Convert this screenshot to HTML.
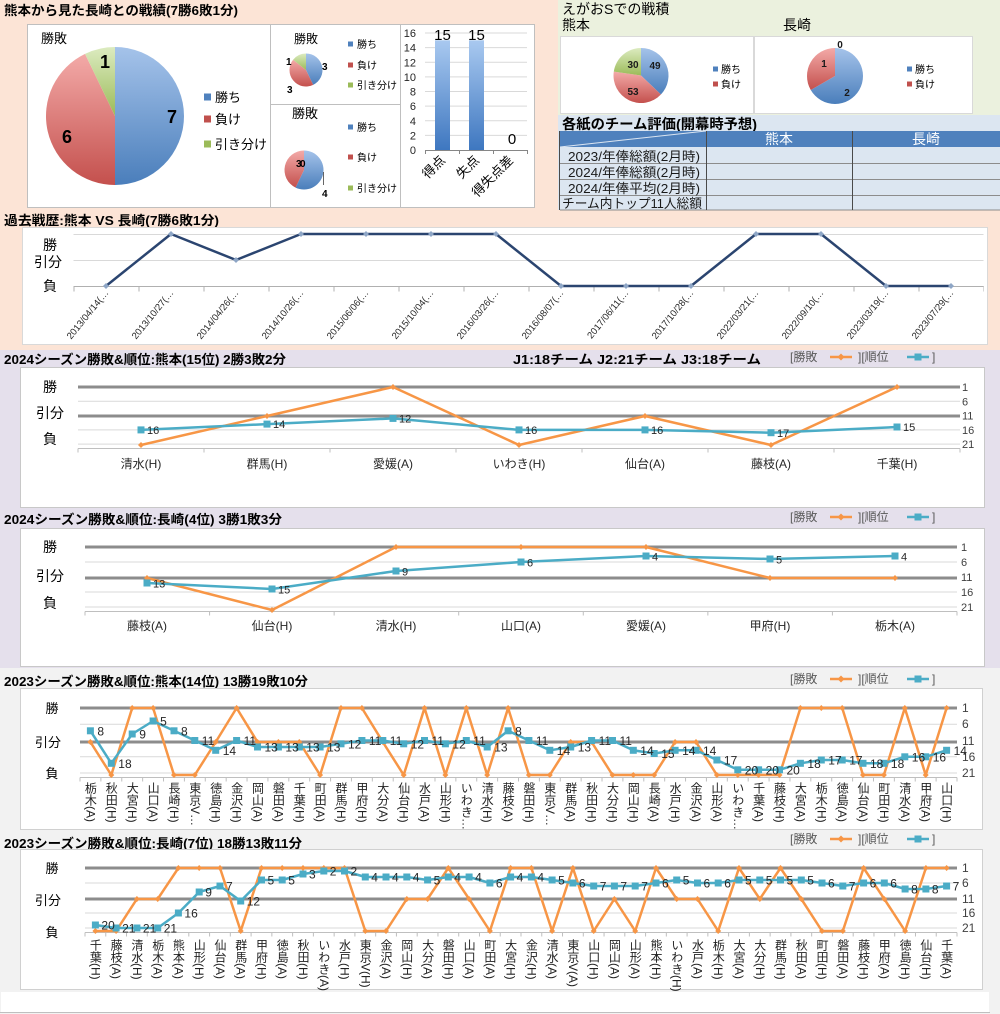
<!DOCTYPE html>
<html><head><meta charset="utf-8">
<style>
body{margin:0;width:1000px;height:1014px;overflow:hidden;background:#fff;}
.wrap{position:relative;width:1000px;height:1014px;}
svg{position:absolute;left:0;top:0;}
.v{position:absolute;writing-mode:vertical-rl;text-orientation:mixed;font-family:"Liberation Sans","Noto Sans CJK JP",sans-serif;font-size:12px;line-height:14px;width:14px;white-space:nowrap;color:#222;}
.k{top:782px}.n{top:939px}
</style></head><body><div class="wrap">
<svg width="1000" height="1014" viewBox="0 0 1000 1014" font-family="Liberation Sans, Noto Sans CJK JP, sans-serif">
<defs>
<linearGradient id="gB" x1="0" y1="0" x2="0" y2="1"><stop offset="0" stop-color="#a5c3ea"/><stop offset="1" stop-color="#4a7ebb"/></linearGradient>
<linearGradient id="gR" x1="0" y1="0" x2="0" y2="1"><stop offset="0" stop-color="#f3aaa8"/><stop offset="1" stop-color="#c4504d"/></linearGradient>
<linearGradient id="gG" x1="0" y1="0" x2="0" y2="1"><stop offset="0" stop-color="#dcebc0"/><stop offset="1" stop-color="#9bbb59"/></linearGradient>
<linearGradient id="gBar" x1="0" y1="0" x2="0" y2="1"><stop offset="0" stop-color="#a9c9f0"/><stop offset="1" stop-color="#3e77c0"/></linearGradient>
<marker id="mo" viewBox="-4 -4 8 8" markerWidth="8" markerHeight="8" markerUnits="userSpaceOnUse"><path d="M0,-3L3,0L0,3L-3,0Z" fill="#f79646"/></marker>
<marker id="mb" viewBox="-4 -4 8 8" markerWidth="8" markerHeight="8" markerUnits="userSpaceOnUse"><rect x="-3.5" y="-3.5" width="7" height="7" fill="#4bacc6"/></marker>
<marker id="mn" viewBox="-4 -4 8 8" markerWidth="8" markerHeight="8" markerUnits="userSpaceOnUse"><path d="M0,-3L3,0L0,3L-3,0Z" fill="#8ea6c6"/></marker>
</defs>

<!-- backgrounds -->
<rect x="0" y="0" width="1000" height="350" fill="#fce4d6"/>
<rect x="558" y="0" width="442" height="115" fill="#ebf1de"/>
<rect x="558" y="115" width="442" height="95" fill="#dce6f1"/>
<rect x="0" y="350" width="1000" height="318" fill="#e5e0ec"/>
<rect x="0" y="668" width="1000" height="346" fill="#f2f2f2"/>
<rect x="1" y="992" width="988" height="20" fill="#fff"/>
<line x1="0" y1="1012.5" x2="990" y2="1012.5" stroke="#bfbfbf"/>

<!-- ===== top-left ===== -->
<text x="4" y="15" font-size="13" font-weight="bold" textLength="234" lengthAdjust="spacingAndGlyphs">熊本から見た長崎との戦績(7勝6敗1分)</text>
<rect x="27.5" y="24.5" width="243" height="183" fill="#fff" stroke="#bfbfbf"/>
<text x="41" y="43" font-size="13">勝敗</text>
<path d="M115,116 L115,47 A69,69 0 0 1 115,185 Z" fill="url(#gB)"/>
<path d="M115,116 L115,185 A69,69 0 0 1 85.06,53.83 Z" fill="url(#gR)"/>
<path d="M115,116 L85.06,53.83 A69,69 0 0 1 115,47 Z" fill="url(#gG)"/>
<text x="167" y="123" font-size="18" font-weight="bold">7</text>
<text x="62" y="143" font-size="18" font-weight="bold">6</text>
<text x="100" y="68" font-size="18" font-weight="bold">1</text>
<rect x="204" y="93.5" width="7" height="7" fill="#4f81bd"/><text x="215" y="102" font-size="13">勝ち</text>
<rect x="204" y="115.5" width="7" height="7" fill="#c0504d"/><text x="215" y="124" font-size="13">負け</text>
<rect x="204" y="140.5" width="7" height="7" fill="#9bbb59"/><text x="215" y="149" font-size="13">引き分け</text>

<rect x="270.5" y="24.5" width="130" height="80" fill="#fff" stroke="#bfbfbf"/>
<text x="294" y="43" font-size="12">勝敗</text>
<path d="M306,70 L306,53.5 A16.5,16.5 0 0 1 313.16,84.87 Z" fill="url(#gB)"/>
<path d="M306,70 L313.16,84.87 A16.5,16.5 0 0 1 293.10,59.71 Z" fill="url(#gR)"/>
<path d="M306,70 L293.10,59.71 A16.5,16.5 0 0 1 306,53.5 Z" fill="url(#gG)"/>
<text x="286" y="65" font-size="10" font-weight="bold">1</text>
<text x="322" y="70" font-size="10" font-weight="bold">3</text>
<text x="287" y="93" font-size="10" font-weight="bold">3</text>
<g font-size="10"><rect x="348" y="41.5" width="5" height="5" fill="#4f81bd"/><text x="357" y="48">勝ち</text>
<rect x="348" y="62.5" width="5" height="5" fill="#c0504d"/><text x="357" y="69">負け</text>
<rect x="348" y="82.5" width="5" height="5" fill="#9bbb59"/><text x="357" y="89">引き分け</text></g>

<rect x="270.5" y="104.5" width="130" height="103" fill="#fff" stroke="#bfbfbf"/>
<text x="292" y="118" font-size="13">勝敗</text>
<path d="M304,170 L304,150.5 A19.5,19.5 0 1 1 295.54,187.57 Z" fill="url(#gB)"/>
<path d="M304,170 L295.54,187.57 A19.5,19.5 0 0 1 304,150.5 Z" fill="url(#gR)"/>
<text x="296" y="167" font-size="10" font-weight="bold">3</text>
<text x="300" y="167" font-size="10" font-weight="bold">0</text>
<line x1="323.5" y1="172" x2="323.5" y2="185" stroke="#404040" stroke-width="0.8"/>
<text x="322" y="197" font-size="10" font-weight="bold">4</text>
<g font-size="10"><rect x="348" y="124.5" width="5" height="5" fill="#4f81bd"/><text x="357" y="131">勝ち</text>
<rect x="348" y="154.5" width="5" height="5" fill="#c0504d"/><text x="357" y="161">負け</text>
<rect x="348" y="185.5" width="5" height="5" fill="#9bbb59"/><text x="357" y="192">引き分け</text></g>

<!-- bar chart -->
<rect x="400.5" y="24.5" width="134" height="183" fill="#fff" stroke="#bfbfbf"/>
<g stroke="#d9d9d9" stroke-width="1">
<line x1="425" y1="135.4" x2="527" y2="135.4"/><line x1="425" y1="120.8" x2="527" y2="120.8"/>
<line x1="425" y1="106.1" x2="527" y2="106.1"/><line x1="425" y1="91.5" x2="527" y2="91.5"/>
<line x1="425" y1="76.9" x2="527" y2="76.9"/><line x1="425" y1="62.3" x2="527" y2="62.3"/>
<line x1="425" y1="47.6" x2="527" y2="47.6"/><line x1="425" y1="33" x2="527" y2="33"/>
</g>
<line x1="425" y1="150.5" x2="527" y2="150.5" stroke="#868686"/>
<g stroke="#868686"><line x1="425.5" y1="150" x2="425.5" y2="154"/><line x1="459.5" y1="150" x2="459.5" y2="154"/><line x1="493.5" y1="150" x2="493.5" y2="154"/><line x1="527.5" y1="150" x2="527.5" y2="154"/></g>
<g font-size="11" text-anchor="end" fill="#262626">
<text x="416" y="154">0</text><text x="416" y="139.4">2</text><text x="416" y="124.8">4</text><text x="416" y="110.1">6</text><text x="416" y="95.5">8</text><text x="416" y="80.9">10</text><text x="416" y="66.3">12</text><text x="416" y="51.6">14</text><text x="416" y="37">16</text>
</g>
<rect x="435" y="40.3" width="15" height="109.7" fill="url(#gBar)"/>
<rect x="469" y="40.3" width="15" height="109.7" fill="url(#gBar)"/>
<g font-size="15" text-anchor="middle"><text x="442.5" y="40">15</text><text x="476.5" y="40">15</text><text x="512" y="144">0</text></g>
<g font-size="13" text-anchor="end">
<text transform="translate(446,161) rotate(-45)">得点</text>
<text transform="translate(480,161) rotate(-45)">失点</text>
<text transform="translate(514,161) rotate(-45)">得失点差</text>
</g>

<!-- ===== top-right ===== -->
<text x="562" y="14" font-size="14">えがおSでの戦積</text>
<text x="562" y="30" font-size="14">熊本</text>
<text x="783" y="30" font-size="14">長崎</text>
<rect x="560.5" y="36.5" width="193" height="77" fill="#fff" stroke="#d9d9d9"/>
<rect x="754.5" y="36.5" width="218" height="77" fill="#fff" stroke="#d9d9d9"/>
<path d="M641,75.5 L641,48 A27.5,27.5 0 0 1 660.90,94.48 Z" fill="url(#gB)"/>
<path d="M641,75.5 L660.90,94.48 A27.5,27.5 0 0 1 613.78,71.59 Z" fill="url(#gR)"/>
<path d="M641,75.5 L613.78,71.59 A27.5,27.5 0 0 1 641,48 Z" fill="url(#gG)"/>
<g font-size="10" font-weight="bold" text-anchor="middle" fill="#1a1a1a">
<text x="633" y="68">30</text><text x="655" y="69">49</text><text x="633" y="95">53</text>
</g>
<g font-size="10"><rect x="713" y="66.5" width="5" height="5" fill="#4f81bd"/><text x="721" y="73">勝ち</text>
<rect x="713" y="81.5" width="5" height="5" fill="#c0504d"/><text x="721" y="88">負け</text></g>
<path d="M835,76 L835,48 A28,28 0 1 1 810.75,90 Z" fill="url(#gB)"/>
<path d="M835,76 L810.75,90 A28,28 0 0 1 835,48 Z" fill="url(#gR)"/>
<g font-size="10" font-weight="bold" text-anchor="middle" fill="#1a1a1a">
<text x="840" y="48">0</text><text x="824" y="67">1</text><text x="847" y="96">2</text>
</g>
<g font-size="10"><rect x="907" y="66.5" width="5" height="5" fill="#4f81bd"/><text x="915" y="73">勝ち</text>
<rect x="907" y="81.5" width="5" height="5" fill="#c0504d"/><text x="915" y="88">負け</text></g>

<text x="562" y="129" font-size="14" font-weight="bold" textLength="195" lengthAdjust="spacingAndGlyphs">各紙のチーム評価(開幕時予想)</text>
<rect x="560" y="131" width="440" height="16" fill="#4f81bd"/>
<rect x="560" y="147" width="440" height="63" fill="#dce6f1"/>
<line x1="560" y1="147" x2="706" y2="131" stroke="#dbe5f1" stroke-width="1"/>
<g stroke="#8c8c8c"><line x1="560" y1="163.5" x2="1000" y2="163.5"/><line x1="560" y1="179.5" x2="1000" y2="179.5"/><line x1="560" y1="195.5" x2="1000" y2="195.5"/><line x1="560" y1="210" x2="1000" y2="210"/></g>
<g stroke="#4a4a4a"><line x1="559.5" y1="131" x2="559.5" y2="210"/><line x1="706.5" y1="131" x2="706.5" y2="210"/><line x1="852.5" y1="131" x2="852.5" y2="210"/></g>
<g font-size="14" fill="#fff" text-anchor="middle"><text x="779" y="144">熊本</text><text x="926" y="144">長崎</text></g>
<g font-size="13" fill="#1a1a1a">
<text x="568" y="161" textLength="132" lengthAdjust="spacingAndGlyphs">2023/年俸総額(2月時)</text>
<text x="568" y="177" textLength="132" lengthAdjust="spacingAndGlyphs">2024/年俸総額(2月時)</text>
<text x="568" y="193" textLength="132" lengthAdjust="spacingAndGlyphs">2024/年俸平均(2月時)</text>
<text x="562" y="208" textLength="140" lengthAdjust="spacingAndGlyphs">チーム内トップ11人総額</text>
</g>

<!-- ===== 過去戦歴 ===== -->
<text x="4" y="225" font-size="13" font-weight="bold" textLength="215" lengthAdjust="spacingAndGlyphs">過去戦歴:熊本 VS 長崎(7勝6敗1分)</text>
<rect x="22.5" y="227.5" width="965" height="117" fill="#fff" stroke="#d9d9d9"/>
<g stroke="#d9d9d9"><line x1="73.5" y1="234.5" x2="983.5" y2="234.5"/><line x1="73.5" y1="260.5" x2="983.5" y2="260.5"/></g>
<line x1="73.5" y1="286.5" x2="983.5" y2="286.5" stroke="#b0b0b0"/>
<line x1="73.5" y1="289" x2="984" y2="289" stroke="#b0b0b0" stroke-width="5" stroke-dasharray="1 64"/>
<g font-size="14" text-anchor="middle"><text x="50" y="250">勝</text><text x="48" y="267">引分</text><text x="50" y="291">負</text></g>
<polyline points="106,286 171,234 236,260 301,234 366,234 431,234 496,234 561,286 626,286 691,286 756,234 821,234 886,286 951,286" fill="none" stroke="#2b4570" stroke-width="2.5" stroke-linejoin="round" marker-start="url(#mn)" marker-mid="url(#mn)" marker-end="url(#mn)"/>
<g font-size="9.5" fill="#262626" text-anchor="end">
<text transform="translate(109,293) rotate(-51)">2013/04/14(…</text>
<text transform="translate(174,293) rotate(-51)">2013/10/27(…</text>
<text transform="translate(239,293) rotate(-51)">2014/04/26(…</text>
<text transform="translate(304,293) rotate(-51)">2014/10/26(…</text>
<text transform="translate(369,293) rotate(-51)">2015/06/06(…</text>
<text transform="translate(434,293) rotate(-51)">2015/10/04(…</text>
<text transform="translate(499,293) rotate(-51)">2016/03/26(…</text>
<text transform="translate(564,293) rotate(-51)">2016/08/07(…</text>
<text transform="translate(629,293) rotate(-51)">2017/06/11(…</text>
<text transform="translate(694,293) rotate(-51)">2017/10/28(…</text>
<text transform="translate(759,293) rotate(-51)">2022/03/21(…</text>
<text transform="translate(824,293) rotate(-51)">2022/09/10(…</text>
<text transform="translate(889,293) rotate(-51)">2023/03/19(…</text>
<text transform="translate(954,293) rotate(-51)">2023/07/29(…</text>
</g>

<!-- ===== 2024 Kumamoto ===== -->
<text x="4" y="364" font-size="13" font-weight="bold" textLength="282" lengthAdjust="spacingAndGlyphs">2024シーズン勝敗&amp;順位:熊本(15位) 2勝3敗2分</text>
<text x="513" y="364" font-size="13" font-weight="bold" textLength="248" lengthAdjust="spacingAndGlyphs">J1:18チーム J2:21チーム J3:18チーム</text>
<g font-size="12" fill="#595959"><text x="790" y="361">[勝敗</text><text x="858" y="361">][順位</text><text x="932" y="361">]</text></g>
<line x1="830" y1="357" x2="852" y2="357" stroke="#f79646" stroke-width="2.5"/><path d="M841,353.5L844.5,357L841,360.5L837.5,357Z" fill="#f79646"/>
<line x1="907" y1="357" x2="929" y2="357" stroke="#4bacc6" stroke-width="2.5"/><rect x="914.5" y="353.5" width="7" height="7" fill="#4bacc6"/>
<rect x="20.5" y="367.5" width="964" height="140" fill="#fff" stroke="#c8c8c8"/>
<g stroke="#d9d9d9"><line x1="78" y1="401.3" x2="960" y2="401.3"/><line x1="78" y1="429.9" x2="960" y2="429.9"/><line x1="78" y1="444.1" x2="960" y2="444.1"/></g>
<g stroke="#8c8c8c" stroke-width="3"><line x1="78" y1="387" x2="960" y2="387"/><line x1="78" y1="416" x2="960" y2="416"/></g>
<line x1="78" y1="448.5" x2="960" y2="448.5" stroke="#bfbfbf"/>
<line x1="77.5" y1="450.5" x2="961" y2="450.5" stroke="#bfbfbf" stroke-width="4" stroke-dasharray="1 125"/>
<g font-size="14" text-anchor="middle"><text x="50" y="392">勝</text><text x="50" y="418">引分</text><text x="50" y="444">負</text></g>
<g font-size="11" fill="#404040"><text x="962" y="391">1</text><text x="962" y="405.3">6</text><text x="962" y="419.6">11</text><text x="962" y="433.9">16</text><text x="962" y="448.1">21</text></g>
<polyline points="141,445 267,416 393,387 519,445 645,416 771,445 897,387" fill="none" stroke="#f79646" stroke-width="2.5" stroke-linejoin="round" marker-start="url(#mo)" marker-mid="url(#mo)" marker-end="url(#mo)"/>
<polyline points="141,429.9 267,424.1 393,418.4 519,429.9 645,429.9 771,432.7 897,427" fill="none" stroke="#4bacc6" stroke-width="2.5" stroke-linejoin="round" marker-start="url(#mb)" marker-mid="url(#mb)" marker-end="url(#mb)"/>
<g font-size="11" fill="#262626"><text x="147" y="434">16</text><text x="273" y="428">14</text><text x="399" y="422.5">12</text><text x="525" y="434">16</text><text x="651" y="434">16</text><text x="777" y="437">17</text><text x="903" y="431">15</text></g>
<g font-size="12" text-anchor="middle" fill="#262626"><text x="141" y="468">清水(H)</text><text x="267" y="468">群馬(H)</text><text x="393" y="468">愛媛(A)</text><text x="519" y="468">いわき(H)</text><text x="645" y="468">仙台(A)</text><text x="771" y="468">藤枝(A)</text><text x="897" y="468">千葉(H)</text></g>

<!-- ===== 2024 Nagasaki ===== -->
<text x="4" y="524" font-size="13" font-weight="bold" textLength="278" lengthAdjust="spacingAndGlyphs">2024シーズン勝敗&amp;順位:長崎(4位) 3勝1敗3分</text>
<g font-size="12" fill="#595959"><text x="790" y="521">[勝敗</text><text x="858" y="521">][順位</text><text x="932" y="521">]</text></g>
<line x1="830" y1="517" x2="852" y2="517" stroke="#f79646" stroke-width="2.5"/><path d="M841,513.5L844.5,517L841,520.5L837.5,517Z" fill="#f79646"/>
<line x1="907" y1="517" x2="929" y2="517" stroke="#4bacc6" stroke-width="2.5"/><rect x="914.5" y="513.5" width="7" height="7" fill="#4bacc6"/>
<rect x="20.5" y="528.5" width="964" height="138" fill="#fff" stroke="#c8c8c8"/>
<g stroke="#d9d9d9"><line x1="85" y1="562" x2="957" y2="562"/><line x1="85" y1="592" x2="957" y2="592"/><line x1="85" y1="607" x2="957" y2="607"/></g>
<g stroke="#8c8c8c" stroke-width="3"><line x1="85" y1="547" x2="957" y2="547"/><line x1="85" y1="578" x2="957" y2="578"/></g>
<line x1="85" y1="611.5" x2="957" y2="611.5" stroke="#bfbfbf"/>
<line x1="84.5" y1="613.5" x2="958" y2="613.5" stroke="#bfbfbf" stroke-width="4" stroke-dasharray="1 123.57"/>
<g font-size="14" text-anchor="middle"><text x="50" y="552">勝</text><text x="50" y="581">引分</text><text x="50" y="608">負</text></g>
<g font-size="11" fill="#404040"><text x="961" y="551">1</text><text x="961" y="566">6</text><text x="961" y="581">11</text><text x="961" y="596">16</text><text x="961" y="611">21</text></g>
<polyline points="147,578 272,610 396,547 521,547 646,547 770,578 895,578" fill="none" stroke="#f79646" stroke-width="2.5" stroke-linejoin="round" marker-start="url(#mo)" marker-mid="url(#mo)" marker-end="url(#mo)"/>
<polyline points="147,583 272,589 396,571 521,562 646,556 770,559 895,556" fill="none" stroke="#4bacc6" stroke-width="2.5" stroke-linejoin="round" marker-start="url(#mb)" marker-mid="url(#mb)" marker-end="url(#mb)"/>
<g font-size="11" fill="#262626"><text x="153" y="587.5">13</text><text x="278" y="593.5">15</text><text x="402" y="575.5">9</text><text x="527" y="566.5">6</text><text x="652" y="560.5">4</text><text x="776" y="563.5">5</text><text x="901" y="560.5">4</text></g>
<g font-size="12" text-anchor="middle" fill="#262626"><text x="147" y="630">藤枝(A)</text><text x="272" y="630">仙台(H)</text><text x="396" y="630">清水(H)</text><text x="521" y="630">山口(A)</text><text x="646" y="630">愛媛(A)</text><text x="770" y="630">甲府(H)</text><text x="895" y="630">栃木(A)</text></g>

<!-- ===== 2023 Kumamoto ===== -->
<text x="4" y="686" font-size="13" font-weight="bold" textLength="304" lengthAdjust="spacingAndGlyphs">2023シーズン勝敗&amp;順位:熊本(14位) 13勝19敗10分</text>
<g font-size="12" fill="#595959"><text x="790" y="683">[勝敗</text><text x="858" y="683">][順位</text><text x="932" y="683">]</text></g>
<line x1="830" y1="679" x2="852" y2="679" stroke="#f79646" stroke-width="2.5"/><path d="M841,675.5L844.5,679L841,682.5L837.5,679Z" fill="#f79646"/>
<line x1="907" y1="679" x2="929" y2="679" stroke="#4bacc6" stroke-width="2.5"/><rect x="914.5" y="675.5" width="7" height="7" fill="#4bacc6"/>
<rect x="20.5" y="688.5" width="962" height="141" fill="#fff" stroke="#d0d0d0"/>
<g stroke="#d9d9d9"><line x1="80" y1="724.3" x2="957" y2="724.3"/><line x1="80" y1="756.8" x2="957" y2="756.8"/><line x1="80" y1="773" x2="957" y2="773"/></g>
<g stroke="#8c8c8c" stroke-width="3"><line x1="80" y1="708" x2="957" y2="708"/><line x1="80" y1="742" x2="957" y2="742"/></g>
<line x1="80" y1="777.5" x2="957" y2="777.5" stroke="#bfbfbf"/>
<line x1="79.5" y1="779.5" x2="958" y2="779.5" stroke="#bfbfbf" stroke-width="4" stroke-dasharray="1 19.881"/>
<g font-size="13" text-anchor="middle"><text x="52" y="713">勝</text><text x="48" y="747">引分</text><text x="52" y="778">負</text></g>
<g font-size="12" fill="#404040"><text x="962" y="712">1</text><text x="962" y="728">6</text><text x="962" y="745">11</text><text x="962" y="761">16</text><text x="962" y="777">21</text></g>
<polyline points="90.4,742 111.3,775 132.2,708 153.1,708 174.0,775 194.8,775 215.7,742 236.6,708 257.5,742 278.4,742 299.3,742 320.1,775 341.0,708 361.9,708 382.8,742 403.7,775 424.5,708 445.4,775 466.3,708 487.2,775 508.1,708 528.9,775 549.8,775 570.7,742 591.6,742 612.5,775 633.3,775 654.2,775 675.1,742 696.0,742 716.9,775 737.8,775 758.6,775 779.5,775 800.4,708 821.3,708 842.2,708 863.0,775 883.9,775 904.8,708 925.7,775 946.6,708" fill="none" stroke="#f79646" stroke-width="2.5" stroke-linejoin="round" marker-start="url(#mo)" marker-mid="url(#mo)" marker-end="url(#mo)"/>
<polyline points="90.4,730.8 111.3,763.3 132.2,734 153.1,721 174.0,730.8 194.8,740.5 215.7,750.3 236.6,740.5 257.5,747 278.4,747 299.3,747 320.1,747 341.0,743.8 361.9,740.5 382.8,740.5 403.7,743.8 424.5,740.5 445.4,743.8 466.3,740.5 487.2,747 508.1,730.8 528.9,740.5 549.8,750.3 570.7,747 591.6,740.5 612.5,740.5 633.3,750.3 654.2,753.5 675.1,750.3 696.0,750.3 716.9,760 737.8,769.8 758.6,769.8 779.5,769.8 800.4,763.3 821.3,760 842.2,760 863.0,763.3 883.9,763.3 904.8,756.8 925.7,756.8 946.6,750.3" fill="none" stroke="#4bacc6" stroke-width="2.5" stroke-linejoin="round" marker-start="url(#mb)" marker-mid="url(#mb)" marker-end="url(#mb)"/>
<g font-size="12" fill="#262626">
<text x="97.4" y="735.3">8</text><text x="118.3" y="767.8">18</text><text x="139.2" y="738.5">9</text><text x="160.1" y="725.5">5</text><text x="181.0" y="735.3">8</text><text x="201.8" y="745">11</text><text x="222.7" y="754.8">14</text><text x="243.6" y="745">11</text><text x="264.5" y="751.5">13</text><text x="285.4" y="751.5">13</text><text x="306.3" y="751.5">13</text><text x="327.1" y="751.5">13</text><text x="348.0" y="748.3">12</text><text x="368.9" y="745">11</text><text x="389.8" y="745">11</text><text x="410.7" y="748.3">12</text><text x="431.5" y="745">11</text><text x="452.4" y="748.3">12</text><text x="473.3" y="745">11</text><text x="494.2" y="751.5">13</text><text x="515.1" y="735.3">8</text><text x="535.9" y="745">11</text><text x="556.8" y="754.8">14</text><text x="577.7" y="751.5">13</text><text x="598.6" y="745">11</text><text x="619.5" y="745">11</text><text x="640.3" y="754.8">14</text><text x="661.2" y="758">15</text><text x="682.1" y="754.8">14</text><text x="703.0" y="754.8">14</text><text x="723.9" y="764.5">17</text><text x="744.8" y="774.3">20</text><text x="765.6" y="774.3">20</text><text x="786.5" y="774.3">20</text><text x="807.4" y="767.8">18</text><text x="828.3" y="764.5">17</text><text x="849.2" y="764.5">17</text><text x="870.0" y="767.8">18</text><text x="890.9" y="767.8">18</text><text x="911.8" y="761.3">16</text><text x="932.7" y="761.3">16</text><text x="953.6" y="754.8">14</text>
</g>

<!-- ===== 2023 Nagasaki ===== -->
<text x="4" y="848" font-size="13" font-weight="bold" textLength="298" lengthAdjust="spacingAndGlyphs">2023シーズン勝敗&amp;順位:長崎(7位) 18勝13敗11分</text>
<g font-size="12" fill="#595959"><text x="790" y="843">[勝敗</text><text x="858" y="843">][順位</text><text x="932" y="843">]</text></g>
<line x1="830" y1="839" x2="852" y2="839" stroke="#f79646" stroke-width="2.5"/><path d="M841,835.5L844.5,839L841,842.5L837.5,839Z" fill="#f79646"/>
<line x1="907" y1="839" x2="929" y2="839" stroke="#4bacc6" stroke-width="2.5"/><rect x="914.5" y="835.5" width="7" height="7" fill="#4bacc6"/>
<rect x="20.5" y="849.5" width="962" height="140" fill="#fff" stroke="#d0d0d0"/>
<g stroke="#d9d9d9"><line x1="85" y1="883" x2="957" y2="883"/><line x1="85" y1="913" x2="957" y2="913"/><line x1="85" y1="928" x2="957" y2="928"/></g>
<g stroke="#8c8c8c" stroke-width="3"><line x1="85" y1="868" x2="957" y2="868"/><line x1="85" y1="899" x2="957" y2="899"/></g>
<line x1="85" y1="932.5" x2="957" y2="932.5" stroke="#bfbfbf"/>
<line x1="84.5" y1="934.5" x2="958" y2="934.5" stroke="#bfbfbf" stroke-width="4" stroke-dasharray="1 19.762"/>
<g font-size="13" text-anchor="middle"><text x="52" y="873">勝</text><text x="48" y="905">引分</text><text x="52" y="937">負</text></g>
<g font-size="12" fill="#404040"><text x="962" y="872">1</text><text x="962" y="887">6</text><text x="962" y="903">11</text><text x="962" y="917">16</text><text x="962" y="932">21</text></g>
<polyline points="95.4,931 116.1,931 136.9,899 157.7,899 178.4,868 199.2,868 220.0,868 240.7,931 261.5,868 282.2,868 303.0,868 323.8,868 344.5,868 365.3,931 386.0,931 406.8,899 427.6,899 448.3,868 469.1,899 489.9,931 510.6,868 531.4,868 552.1,931 572.9,868 593.7,931 614.4,899 635.2,931 656.0,868 676.7,899 697.5,899 718.2,931 739.0,868 759.8,899 780.5,868 801.3,899 822.0,931 842.8,931 863.6,868 884.3,899 905.1,931 925.9,868 946.6,868" fill="none" stroke="#f79646" stroke-width="2.5" stroke-linejoin="round" marker-start="url(#mo)" marker-mid="url(#mo)" marker-end="url(#mo)"/>
<polyline points="95.4,925 116.1,928 136.9,928 157.7,928 178.4,913 199.2,892 220.0,886 240.7,901 261.5,880 282.2,880 303.0,874 323.8,871 344.5,871 365.3,877 386.0,877 406.8,877 427.6,880 448.3,877 469.1,877 489.9,883 510.6,877 531.4,877 552.1,880 572.9,883 593.7,886 614.4,886 635.2,886 656.0,883 676.7,880 697.5,883 718.2,883 739.0,880 759.8,880 780.5,880 801.3,880 822.0,883 842.8,886 863.6,883 884.3,883 905.1,889 925.9,889 946.6,886" fill="none" stroke="#4bacc6" stroke-width="2.5" stroke-linejoin="round" marker-start="url(#mb)" marker-mid="url(#mb)" marker-end="url(#mb)"/>
<g font-size="12" fill="#262626">
<text x="101.4" y="929.5">20</text><text x="122.1" y="932.5">21</text><text x="142.9" y="932.5">21</text><text x="163.7" y="932.5">21</text><text x="184.4" y="917.5">16</text><text x="205.2" y="896.5">9</text><text x="226.0" y="890.5">7</text><text x="246.7" y="905.5">12</text><text x="267.5" y="884.5">5</text><text x="288.2" y="884.5">5</text><text x="309.0" y="878.5">3</text><text x="329.8" y="875.5">2</text><text x="350.5" y="875.5">2</text><text x="371.3" y="881.5">4</text><text x="392.0" y="881.5">4</text><text x="412.8" y="881.5">4</text><text x="433.6" y="884.5">5</text><text x="454.3" y="881.5">4</text><text x="475.1" y="881.5">4</text><text x="495.9" y="887.5">6</text><text x="516.6" y="881.5">4</text><text x="537.4" y="881.5">4</text><text x="558.1" y="884.5">5</text><text x="578.9" y="887.5">6</text><text x="599.7" y="890.5">7</text><text x="620.4" y="890.5">7</text><text x="641.2" y="890.5">7</text><text x="662.0" y="887.5">6</text><text x="682.7" y="884.5">5</text><text x="703.5" y="887.5">6</text><text x="724.2" y="887.5">6</text><text x="745.0" y="884.5">5</text><text x="765.8" y="884.5">5</text><text x="786.5" y="884.5">5</text><text x="807.3" y="884.5">5</text><text x="828.0" y="887.5">6</text><text x="848.8" y="890.5">7</text><text x="869.6" y="887.5">6</text><text x="890.3" y="887.5">6</text><text x="911.1" y="893.5">8</text><text x="931.9" y="893.5">8</text><text x="952.6" y="890.5">7</text>
</g>
</svg>

<!-- 2023 Kumamoto category labels -->
<div class="v k" style="left:83.4px">栃木(A)</div>
<div class="v k" style="left:104.3px">秋田(H)</div>
<div class="v k" style="left:125.2px">大宮(H)</div>
<div class="v k" style="left:146.1px">山口(A)</div>
<div class="v k" style="left:167.0px">長崎(H)</div>
<div class="v k" style="left:187.8px">東京V…</div>
<div class="v k" style="left:208.7px">徳島(H)</div>
<div class="v k" style="left:229.6px">金沢(H)</div>
<div class="v k" style="left:250.5px">岡山(A)</div>
<div class="v k" style="left:271.4px">磐田(A)</div>
<div class="v k" style="left:292.3px">千葉(H)</div>
<div class="v k" style="left:313.1px">町田(A)</div>
<div class="v k" style="left:334.0px">群馬(H)</div>
<div class="v k" style="left:354.9px">甲府(H)</div>
<div class="v k" style="left:375.8px">大分(A)</div>
<div class="v k" style="left:396.7px">仙台(H)</div>
<div class="v k" style="left:417.5px">水戸(A)</div>
<div class="v k" style="left:438.4px">山形(H)</div>
<div class="v k" style="left:459.3px">いわき…</div>
<div class="v k" style="left:480.2px">清水(H)</div>
<div class="v k" style="left:501.1px">藤枝(A)</div>
<div class="v k" style="left:521.9px">磐田(H)</div>
<div class="v k" style="left:542.8px">東京V…</div>
<div class="v k" style="left:563.7px">群馬(A)</div>
<div class="v k" style="left:584.6px">秋田(H)</div>
<div class="v k" style="left:605.5px">大分(H)</div>
<div class="v k" style="left:626.3px">岡山(H)</div>
<div class="v k" style="left:647.2px">長崎(A)</div>
<div class="v k" style="left:668.1px">水戸(H)</div>
<div class="v k" style="left:689.0px">金沢(A)</div>
<div class="v k" style="left:709.9px">山形(A)</div>
<div class="v k" style="left:730.8px">いわき…</div>
<div class="v k" style="left:751.6px">千葉(A)</div>
<div class="v k" style="left:772.5px">藤枝(H)</div>
<div class="v k" style="left:793.4px">大宮(A)</div>
<div class="v k" style="left:814.3px">栃木(H)</div>
<div class="v k" style="left:835.2px">徳島(A)</div>
<div class="v k" style="left:856.0px">仙台(A)</div>
<div class="v k" style="left:876.9px">町田(H)</div>
<div class="v k" style="left:897.8px">清水(A)</div>
<div class="v k" style="left:918.7px">甲府(A)</div>
<div class="v k" style="left:939.6px">山口(H)</div>

<!-- 2023 Nagasaki category labels -->
<div class="v n" style="left:88.4px">千葉(H)</div>
<div class="v n" style="left:109.1px">藤枝(A)</div>
<div class="v n" style="left:129.9px">清水(H)</div>
<div class="v n" style="left:150.7px">栃木(A)</div>
<div class="v n" style="left:171.4px">熊本(A)</div>
<div class="v n" style="left:192.2px">山形(H)</div>
<div class="v n" style="left:213.0px">仙台(A)</div>
<div class="v n" style="left:233.7px">群馬(A)</div>
<div class="v n" style="left:254.5px">甲府(H)</div>
<div class="v n" style="left:275.2px">徳島(A)</div>
<div class="v n" style="left:296.0px">秋田(H)</div>
<div class="v n" style="left:316.8px">いわき(A)</div>
<div class="v n" style="left:337.5px">水戸(H)</div>
<div class="v n" style="left:358.3px">東京V(H)</div>
<div class="v n" style="left:379.0px">金沢(A)</div>
<div class="v n" style="left:399.8px">岡山(H)</div>
<div class="v n" style="left:420.6px">大分(A)</div>
<div class="v n" style="left:441.3px">磐田(H)</div>
<div class="v n" style="left:462.1px">山口(A)</div>
<div class="v n" style="left:482.9px">町田(A)</div>
<div class="v n" style="left:503.6px">大宮(H)</div>
<div class="v n" style="left:524.4px">金沢(H)</div>
<div class="v n" style="left:545.1px">清水(A)</div>
<div class="v n" style="left:565.9px">東京V(A)</div>
<div class="v n" style="left:586.7px">山口(H)</div>
<div class="v n" style="left:607.4px">岡山(A)</div>
<div class="v n" style="left:628.2px">山形(A)</div>
<div class="v n" style="left:649.0px">熊本(H)</div>
<div class="v n" style="left:669.7px">いわき(H)</div>
<div class="v n" style="left:690.5px">水戸(A)</div>
<div class="v n" style="left:711.2px">栃木(H)</div>
<div class="v n" style="left:732.0px">大宮(A)</div>
<div class="v n" style="left:752.8px">大分(H)</div>
<div class="v n" style="left:773.5px">群馬(H)</div>
<div class="v n" style="left:794.3px">秋田(A)</div>
<div class="v n" style="left:815.0px">町田(H)</div>
<div class="v n" style="left:835.8px">磐田(A)</div>
<div class="v n" style="left:856.6px">藤枝(H)</div>
<div class="v n" style="left:877.3px">甲府(A)</div>
<div class="v n" style="left:898.1px">徳島(H)</div>
<div class="v n" style="left:918.9px">仙台(H)</div>
<div class="v n" style="left:939.6px">千葉(A)</div>
</div></body></html>
